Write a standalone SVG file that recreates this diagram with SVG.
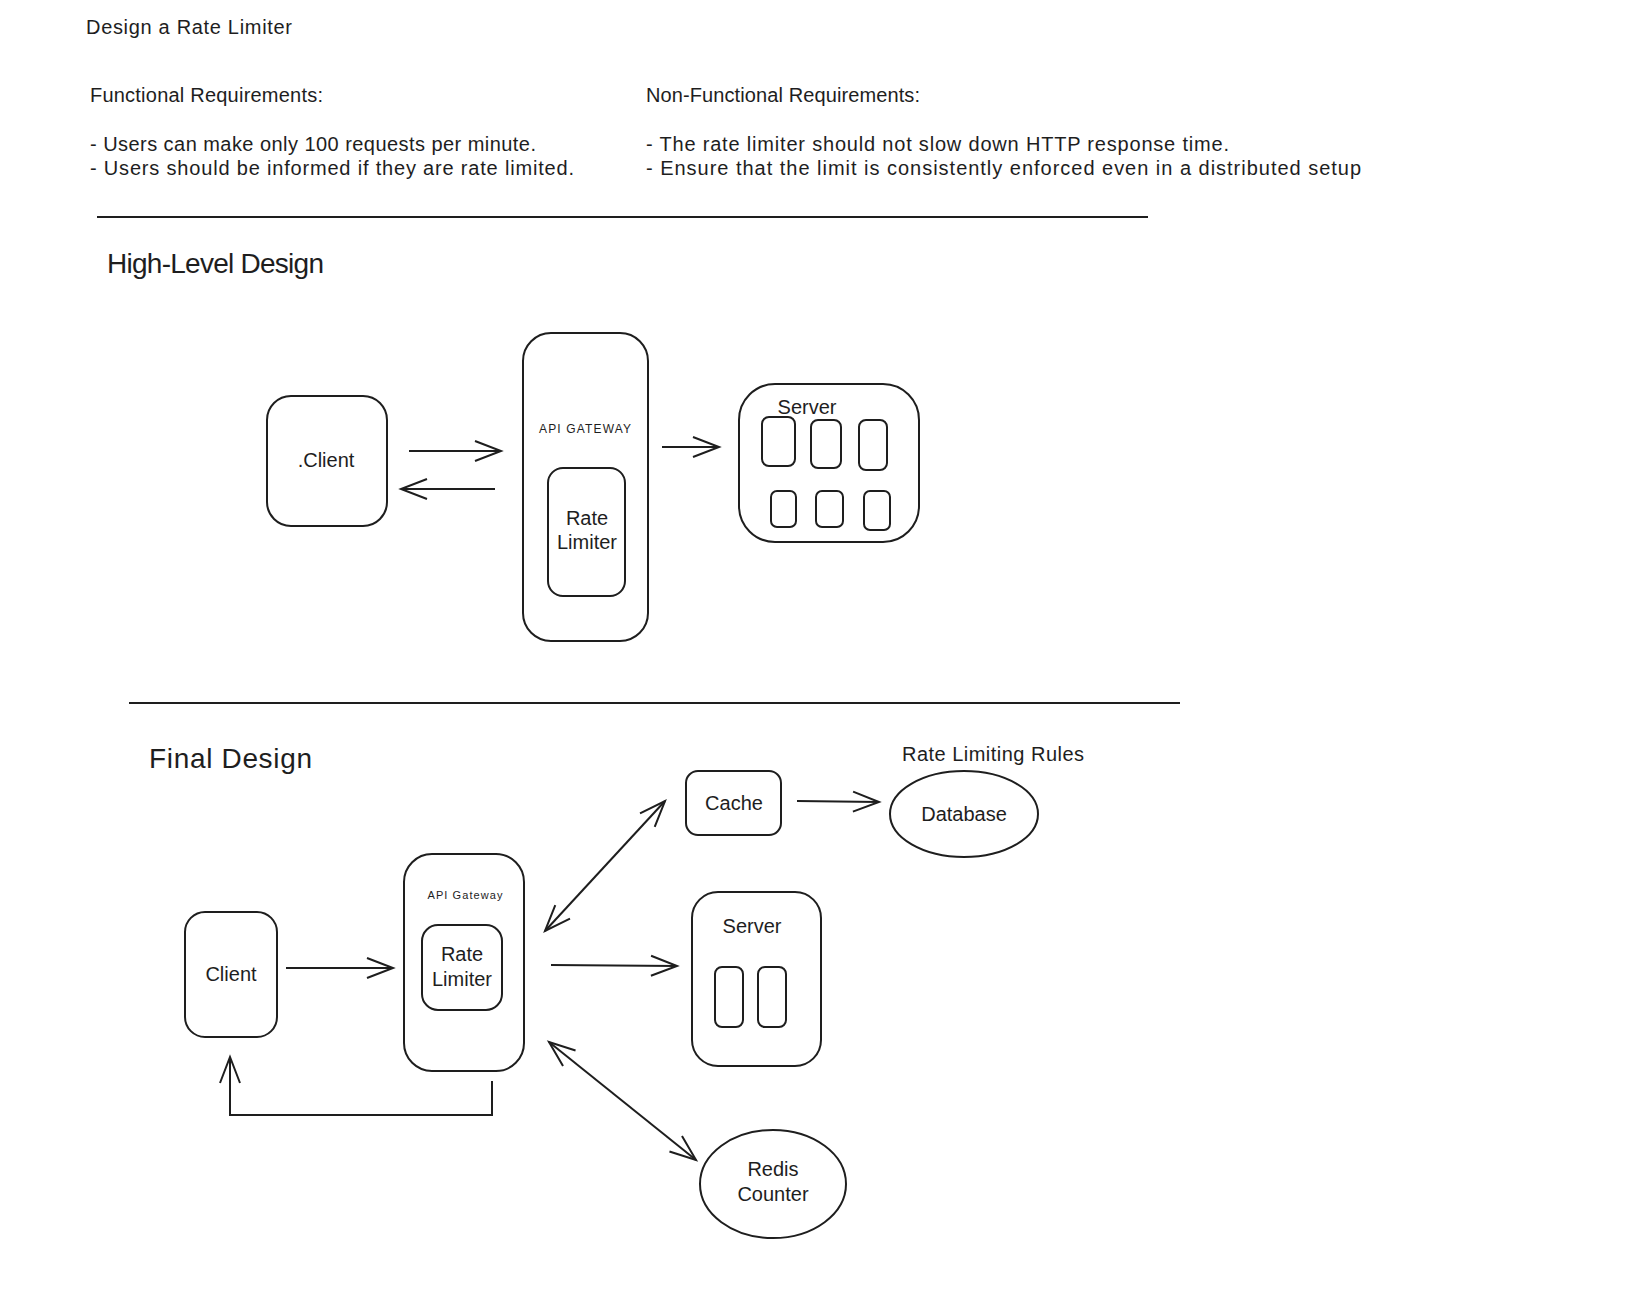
<svg xmlns="http://www.w3.org/2000/svg" width="1630" height="1300" viewBox="0 0 1630 1300">
<style>
text{font-family:"Liberation Sans","Noto Sans",sans-serif;fill:#1e1e1e}
.t{font-size:20px}
.h{font-size:28px}
.c{text-anchor:middle;font-size:20px}
.s{text-anchor:middle;font-size:12px}
.b{fill:none;stroke:#1e1e1e;stroke-width:2}
.a{fill:none;stroke:#1e1e1e;stroke-width:2;marker-end:url(#ah)}
.d{fill:none;stroke:#1e1e1e;stroke-width:2;marker-end:url(#ah);marker-start:url(#ah)}
</style>
<defs>
<marker id="ah" viewBox="-30 -14 34 28" refX="0" refY="0" markerWidth="34" markerHeight="28" markerUnits="userSpaceOnUse" orient="auto-start-reverse">
<path d="M-26,-10 L0,0 L-26,10" fill="none" stroke="#1e1e1e" stroke-width="2"/>
</marker>
</defs>
<rect width="1630" height="1300" fill="#ffffff"/>
<g id="header">
<text class="t" x="86" y="34" textLength="206">Design a Rate Limiter</text>
<text class="t" x="90" y="102" textLength="233">Functional Requirements:</text>
<text class="t" x="90" y="151" textLength="446">- Users can make only 100 requests per minute.</text>
<text class="t" x="90" y="175" textLength="484">- Users should be informed if they are rate limited.</text>
<text class="t" x="646" y="102" textLength="274">Non-Functional Requirements:</text>
<text class="t" x="646" y="151" textLength="583">- The rate limiter should not slow down HTTP response time.</text>
<text class="t" x="646" y="175" textLength="715">- Ensure that the limit is consistently enforced even in a distributed setup</text>
<line class="b" x1="97" y1="217" x2="1148" y2="217"/>
<text class="h" x="107" y="273" textLength="217">High-Level Design</text>
<line class="b" x1="129" y1="703" x2="1180" y2="703"/>
<text class="h" x="149" y="768" textLength="163">Final Design</text>
</g>
<g id="hl-client">
<rect class="b" x="267" y="396" width="120" height="130" rx="24"/>
<text class="c" x="326" y="467">.Client</text>
</g>
<g id="hl-gateway">
<rect class="b" x="523" y="333" width="125" height="308" rx="28"/>
<text class="s" x="585" y="433" textLength="92">API GATEWAY</text>
</g>
<g id="hl-ratelimiter">
<rect class="b" x="548" y="468" width="77" height="128" rx="15"/>
<text class="c" x="587" y="525">Rate</text>
<text class="c" x="587" y="549">Limiter</text>
</g>
<g id="hl-server">
<rect class="b" x="739" y="384" width="180" height="158" rx="36"/>
<text class="c" x="807" y="414">Server</text>
<rect class="b" x="762" y="417" width="33" height="49" rx="7"/>
<rect class="b" x="811" y="420" width="30" height="48" rx="7"/>
<rect class="b" x="859" y="420" width="28" height="50" rx="7"/>
<rect class="b" x="771" y="491" width="25" height="36" rx="6"/>
<rect class="b" x="816" y="491" width="27" height="36" rx="6"/>
<rect class="b" x="864" y="491" width="26" height="39" rx="6"/>
</g>
<g id="fd-client">
<rect class="b" x="185" y="912" width="92" height="125" rx="20"/>
<text class="c" x="231" y="981">Client</text>
</g>
<g id="fd-gateway">
<rect class="b" x="404" y="854" width="120" height="217" rx="28"/>
<text class="s" x="465" y="899" style="font-size:11px" textLength="75">API Gateway</text>
</g>
<g id="fd-ratelimiter">
<rect class="b" x="422" y="925" width="80" height="85" rx="16"/>
<text class="c" x="462" y="961">Rate</text>
<text class="c" x="462" y="986">Limiter</text>
</g>
<g id="fd-cache">
<rect class="b" x="686" y="771" width="95" height="64" rx="12"/>
<text class="c" x="734" y="810">Cache</text>
</g>
<g id="fd-database">
<text class="t" x="902" y="761" textLength="182">Rate Limiting Rules</text>
<ellipse class="b" cx="964" cy="814" rx="74" ry="43"/>
<text class="c" x="964" y="821">Database</text>
</g>
<g id="fd-server">
<rect class="b" x="692" y="892" width="129" height="174" rx="26"/>
<text class="c" x="752" y="933">Server</text>
<rect class="b" x="715" y="967" width="28" height="60" rx="7"/>
<rect class="b" x="758" y="967" width="28" height="60" rx="7"/>
</g>
<g id="fd-redis">
<ellipse class="b" cx="773" cy="1184" rx="73" ry="54"/>
<text class="c" x="773" y="1176">Redis</text>
<text class="c" x="773" y="1201">Counter</text>
</g>
<g id="connectors">
<line class="a" x1="409" y1="451" x2="501" y2="451"/>
<line class="a" x1="495" y1="489" x2="401" y2="489"/>
<line class="a" x1="662" y1="447" x2="719" y2="447"/>
<line class="a" x1="286" y1="968" x2="393" y2="968"/>
<polyline class="a" points="492,1081 492,1115 230,1115 230,1057"/>
<line class="d" x1="545" y1="931" x2="665" y2="801"/>
<line class="a" x1="551" y1="965" x2="677" y2="966"/>
<line class="d" x1="549" y1="1042" x2="696" y2="1160"/>
<line class="a" x1="797" y1="801" x2="879" y2="802"/>
</g>
</svg>
